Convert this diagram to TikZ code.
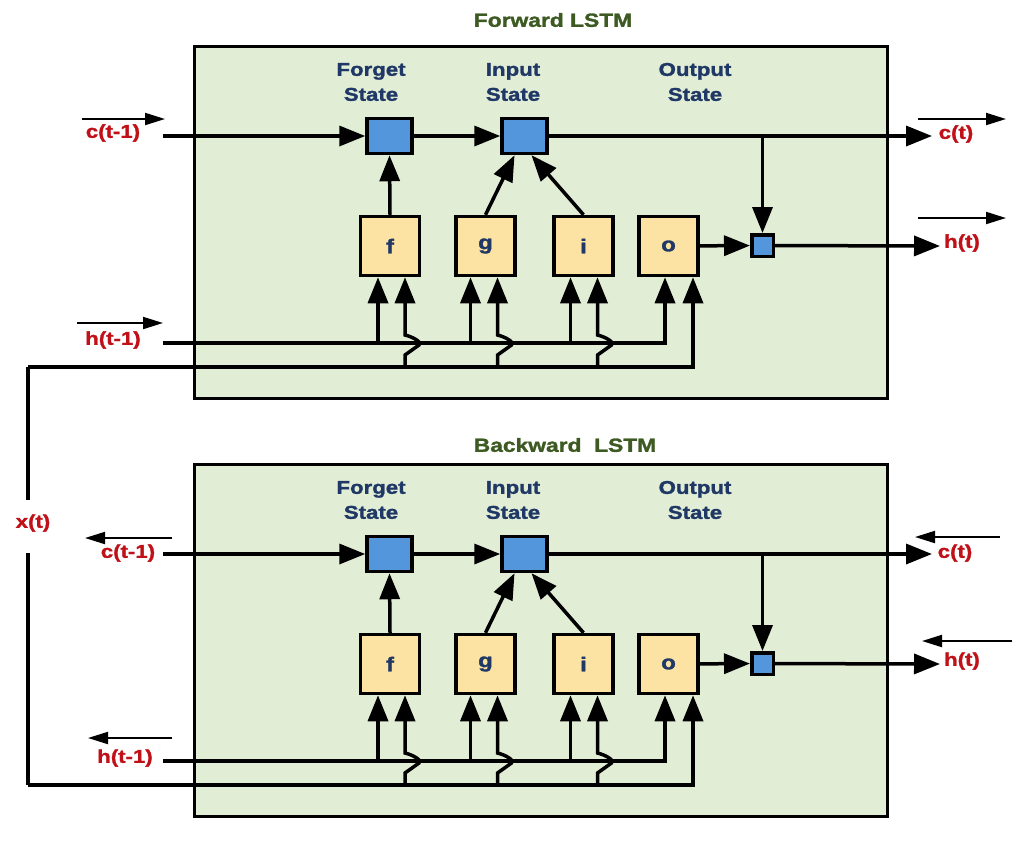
\documentclass[tikz,border=0pt]{standalone}
\usepackage{fontspec}
\newfontfamily\lbl{Liberation Sans Bold}[FakeStretch=1.2,FakeBold=1.5]
\usetikzlibrary{arrows.meta,calc}
\definecolor{boxgreen}{HTML}{E2EDD6}
\definecolor{gateyel}{HTML}{FDE3A3}
\definecolor{stblue}{HTML}{5496DB}
\definecolor{txtred}{HTML}{C01018}
\definecolor{txtnavy}{HTML}{1F3866}
\definecolor{txtgreen}{HTML}{3C5A22}
\tikzset{
  panel/.style={draw=black, line width=3.5pt, fill=boxgreen, minimum width=693pt, minimum height=352pt, inner sep=0pt},
  gate/.style={draw=black, line width=3.5pt, fill=gateyel, minimum width=59pt, minimum height=59pt, inner sep=0pt, font=\lbl\fontsize{20}{20}\selectfont, text=txtnavy},
  statebox/.style={draw=black, line width=3.5pt, fill=stblue, minimum width=45pt, minimum height=35pt, inner sep=0pt},
  smallbox/.style={draw=black, line width=3.5pt, fill=stblue, minimum width=21.5pt, minimum height=21.5pt, inner sep=0pt},
  stlabel/.style={text=txtnavy, align=center, inner sep=0pt, font=\lbl\fontsize{18.5}{25}\selectfont},
  redlbl/.style={text=txtred, inner sep=0pt, font=\lbl\fontsize{18.5}{18}\selectfont},
  titlelbl/.style={text=txtgreen, inner sep=0pt, font=\lbl\fontsize{19}{18}\selectfont},
  conn/.style={line width=3.5pt, -{Triangle[length=26pt,width=20pt]}},
  plainline/.style={line width=3.5pt},
  thinarrow/.style={line width=2pt, -{Triangle[length=20pt,width=12pt]}},
}
\newcommand\lstmpanel[2]{%
\begin{scope}[shift={(0,#2)}]
  \node[panel] (#1box) at (541,222.5) {};
  \node[stlabel] (#1fl) at (371,82) {Forget\\State};
  \node[stlabel] (#1il) at (513,82) {Input\\State};
  \node[stlabel] (#1ol) at (695,82) {Output\\State};
  \node[statebox] (#1fs) at (389.5,136) {};
  \node[statebox] (#1is) at (524.5,136) {};
  \node[smallbox] (#1os) at (762.5,245.5) {};
  \node[gate] (#1f) at (390,246) {f};
  \node[gate] (#1g) at (485.5,246) {g};
  \node[gate] (#1i) at (583.5,246) {i};
  \node[gate] (#1o) at (668.5,246) {o};
  \coordinate (#1cin) at (163,136);
  \coordinate (#1cout) at (932,136);
  \coordinate (#1cj) at (762.5,136);
  \coordinate (#1hin) at (163,343);
  \coordinate (#1hout) at (940,246);
  \coordinate (#1xin) at (28,367);
  \coordinate (#1fL) at ($(#1f.south)+(-12,0)$);
  \coordinate (#1fR) at ($(#1f.south)+(15,0)$);
  \coordinate (#1gL) at ($(#1g.south)+(-15,0)$);
  \coordinate (#1gR) at ($(#1g.south)+(12,0)$);
  \coordinate (#1iL) at ($(#1i.south)+(-13,0)$);
  \coordinate (#1iR) at ($(#1i.south)+(14,0)$);
  \coordinate (#1oL) at ($(#1o.south)+(-3.5,0)$);
  \coordinate (#1oR) at ($(#1o.south)+(24.5,0)$);
  % cell state path
  \draw[conn] (#1cin) -- (#1fs);
  \draw[conn] (#1fs) -- (#1is);
  \draw[conn] (#1is) -- (#1cout);
  \draw[conn] (#1cj) -- (#1os);
  \draw[conn] (#1o) -- (#1os);
  \draw[conn] (#1os) -- (#1hout);
  % gate outputs
  \draw[conn] (#1f.north) -- (#1fs.south);
  \draw[conn] (#1g.north) -- ($(#1is.south)+(-10,0)$);
  \draw[conn] (#1i.north) -- ($(#1is.south)+(7,0)$);
  % h(t-1) inputs
  \draw[conn] (#1hin) -| (#1oL);
  \draw[conn] (#1fL |- #1hin) -- (#1fL);
  \draw[conn] (#1gL |- #1hin) -- (#1gL);
  \draw[conn] (#1iL |- #1hin) -- (#1iL);
  % x(t) inputs
  \draw[conn] (#1xin) -| (#1oR);
  \foreach \g in {f,g,i}{
    \draw[conn] (#1\g R |- #1xin) -- ++(0,-12) -- ++(14,-10) .. controls +(3,-3) and +(8,2) .. ++(-14,-10) -- (#1\g R);
  }
\end{scope}}
\begin{document}
\begin{tikzpicture}[x=1pt,y=-1pt]
  \fill[white] (0,0) rectangle (1016,847);
  \useasboundingbox (0,0) rectangle (1016,847);
  \node[titlelbl] (fwtitle) at (553,20) {Forward LSTM};
  \node[titlelbl] (bwtitle) at (565,445) {Backward\ \ LSTM};
  \lstmpanel{fw}{0}
  \lstmpanel{bw}{418}
  % x(t)
  \node[redlbl] (xt) at (33,523) {x(t)};
  \coordinate (xtop) at (28,500);
  \coordinate (xbot) at (28,553);
  \draw[plainline] (xtop) -- (fwxin);
  \draw[plainline] (xbot) -- (bwxin);
  % forward outside labels
  \node[redlbl] (fwcinl) at (113,133) {c(t-1)};
  \node[redlbl] (fwhinl) at (113,340) {h(t-1)};
  \node[redlbl] (fwcoutl) at (956,134) {c(t)};
  \node[redlbl] (fwhoutl) at (962,243) {h(t)};
  \coordinate (fa1s) at (82,119);  \coordinate (fa1e) at (165,119);
  \coordinate (fa2s) at (77,323);  \coordinate (fa2e) at (163,323);
  \coordinate (fa3s) at (918,119); \coordinate (fa3e) at (1006,119);
  \coordinate (fa4s) at (918,218); \coordinate (fa4e) at (1006,218);
  \draw[thinarrow] (fa1s) -- (fa1e);
  \draw[thinarrow] (fa2s) -- (fa2e);
  \draw[thinarrow] (fa3s) -- (fa3e);
  \draw[thinarrow] (fa4s) -- (fa4e);
  % backward outside labels
  \node[redlbl] (bwcinl) at (128,553) {c(t-1)};
  \node[redlbl] (bwhinl) at (125,758) {h(t-1)};
  \node[redlbl] (bwcoutl) at (955,553) {c(t)};
  \node[redlbl] (bwhoutl) at (962,661) {h(t)};
  \coordinate (ba1s) at (172,538);  \coordinate (ba1e) at (85,538);
  \coordinate (ba2s) at (172,738);  \coordinate (ba2e) at (88,738);
  \coordinate (ba3s) at (1000,537); \coordinate (ba3e) at (915,537);
  \coordinate (ba4s) at (1012,641); \coordinate (ba4e) at (922,641);
  \draw[thinarrow] (ba1s) -- (ba1e);
  \draw[thinarrow] (ba2s) -- (ba2e);
  \draw[thinarrow] (ba3s) -- (ba3e);
  \draw[thinarrow] (ba4s) -- (ba4e);
\end{tikzpicture}
\end{document}
